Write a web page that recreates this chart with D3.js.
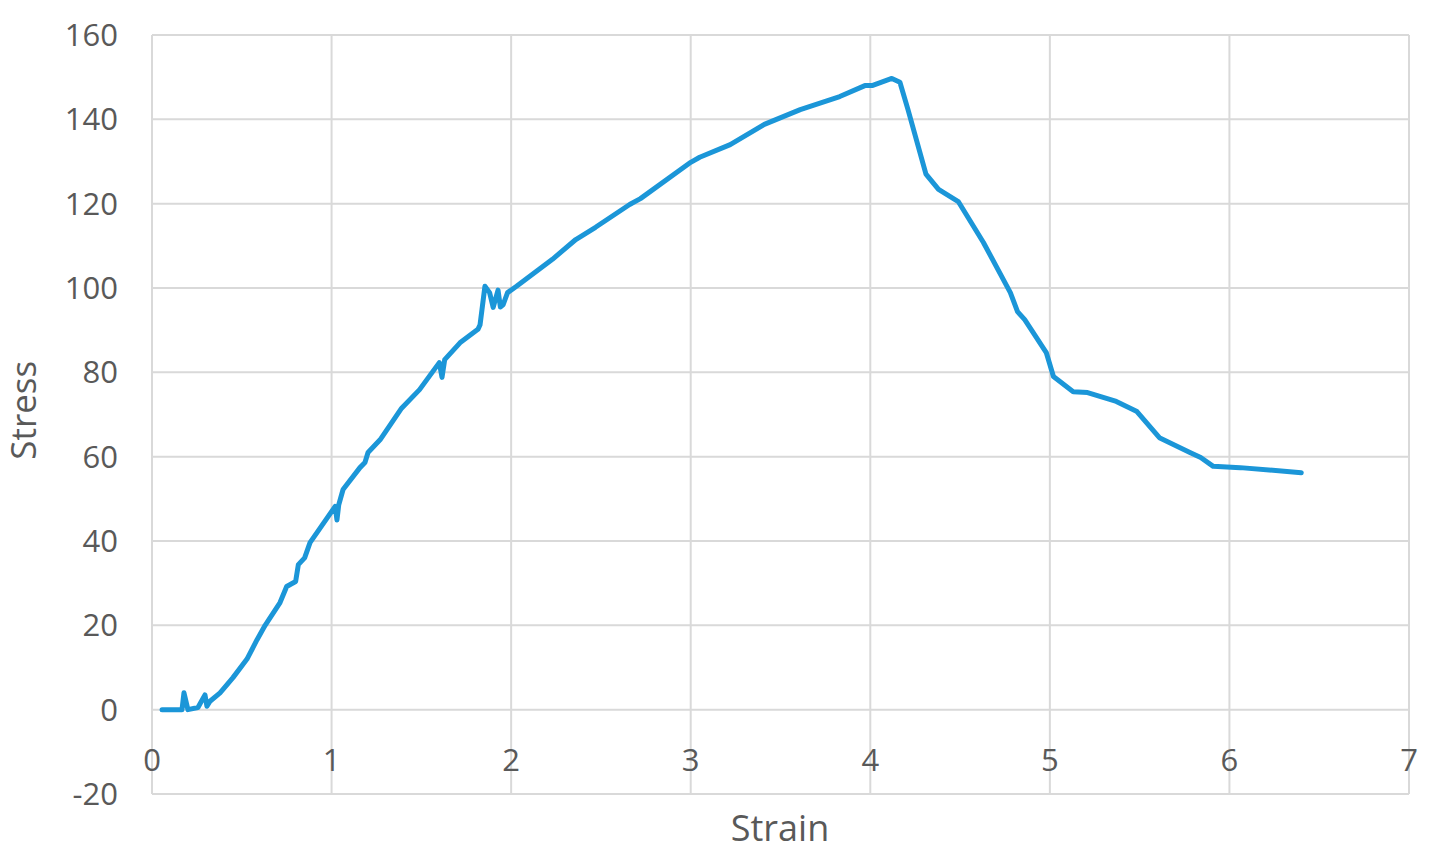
<!DOCTYPE html>
<html>
<head>
<meta charset="utf-8">
<script src="https://cdnjs.cloudflare.com/ajax/libs/d3/7.8.5/d3.min.js"></script>
<style>
  html, body { margin: 0; padding: 0; background: #fff; }
  svg { display: block; }
</style>
</head>
<body>
<script>
// ---- data ----
const strain = [0.056,0.167,0.178,0.2,0.256,0.295,0.306,0.323,0.379,0.451,0.529,0.585,0.63,
  0.713,0.75,0.80,0.815,0.85,0.88,1.02,1.03,1.04,1.064,1.158,1.186,1.203,1.27,1.39,1.49,
  1.60,1.615,1.63,1.715,1.815,1.827,1.854,1.88,1.90,1.927,1.94,1.955,1.98,2.03,2.23,2.36,
  2.47,2.66,2.72,3.0,3.05,3.22,3.41,3.61,3.83,3.97,4.01,4.12,4.165,4.21,4.31,4.38,4.49,
  4.63,4.78,4.82,4.86,4.98,5.02,5.13,5.21,5.37,5.485,5.61,5.78,5.84,5.91,6.06,6.40];
const stress = [0,0,4,0,0.5,3.5,0.8,2,4,7.6,12,16.6,20,
  25.4,29.2,30.4,34.4,36,39.6,48.2,45,48.6,52.2,57.4,58.6,61,64,71.5,75.9,
  82.3,78.8,83,87,90.2,91.3,100.4,98.9,95.4,99.5,95.5,96,98.9,100.4,106.8,111.5,
  114.4,119.8,121.2,129.8,131,134,138.8,142.3,145.4,148,148,149.7,148.8,142.3,127,123.4,120.5,
  110.8,98.9,94.4,92.5,84.7,79,75.4,75.2,73.1,70.7,64.5,61,59.8,57.7,57.4,56.2];
const xTicks = [0,1,2,3,4,5,6,7];
const yTicks = [-20,0,20,40,60,80,100,120,140,160];
const xTitle = "Strain";
const yTitle = "Stress";

const W = 1436, H = 858;
const svg = d3.select("body").append("svg").attr("width", W).attr("height", H);

const x = d3.scaleLinear().domain([0, 7]).range([152, 1409]);
const y = d3.scaleLinear().domain([-20, 160]).range([794, 35]);

const grid = "#d9d9d9";
const textColor = "#595959";
const font = "'Open Sans', 'Liberation Sans', sans-serif";

// horizontal gridlines
svg.append("g").selectAll("line").data(yTicks).join("line")
  .attr("x1", x(0)).attr("x2", x(7))
  .attr("y1", d => y(d)).attr("y2", d => y(d))
  .attr("stroke", grid).attr("stroke-width", 2);

// vertical gridlines
svg.append("g").selectAll("line").data(xTicks).join("line")
  .attr("x1", d => x(d)).attr("x2", d => x(d))
  .attr("y1", y(160)).attr("y2", y(-20))
  .attr("stroke", grid).attr("stroke-width", 2);

// y tick labels
svg.append("g").selectAll("text").data(yTicks).join("text")
  .attr("x", 118).attr("y", d => y(d))
  .attr("dy", "0.36em")
  .attr("text-anchor", "end")
  .attr("font-family", font).attr("font-size", 31)
  .attr("fill", textColor)
  .text(d => d);

// x tick labels (Excel places them just below the 0 line)
svg.append("g").selectAll("text").data(xTicks).join("text")
  .attr("x", d => x(d)).attr("y", y(0) + 61)
  .attr("text-anchor", "middle")
  .attr("font-family", font).attr("font-size", 31)
  .attr("fill", textColor)
  .text(d => d);

// axis titles
svg.append("text")
  .attr("x", 780).attr("y", 841)
  .attr("text-anchor", "middle")
  .attr("font-family", font).attr("font-size", 36)
  .attr("fill", textColor)
  .text(xTitle);

svg.append("text")
  .attr("transform", `translate(36, ${y(71)}) rotate(-90)`)
  .attr("text-anchor", "middle")
  .attr("font-family", font).attr("font-size", 35)
  .attr("fill", textColor)
  .text(yTitle);

// the curve
const pts = strain.map((s, i) => [s, stress[i]]);
const line = d3.line().x(d => x(d[0])).y(d => y(d[1]));
svg.append("path")
  .datum(pts)
  .attr("d", line)
  .attr("fill", "none")
  .attr("stroke", "#1b96d8")
  .attr("stroke-width", 5)
  .attr("stroke-linejoin", "round")
  .attr("stroke-linecap", "round");
</script>
</body>
</html>
